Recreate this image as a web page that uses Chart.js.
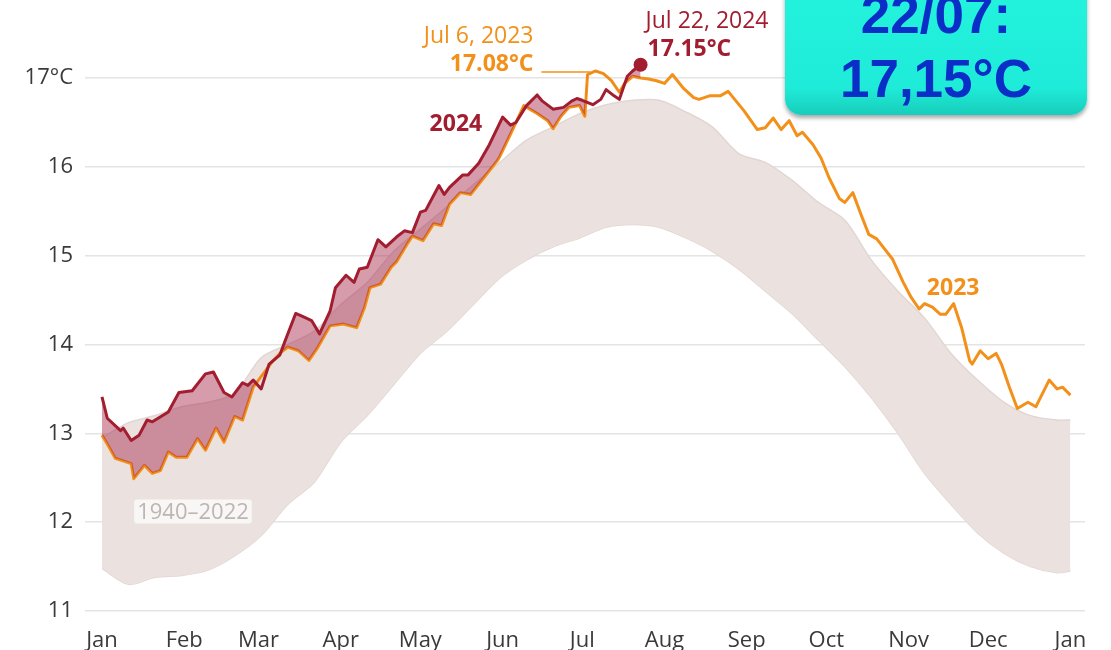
<!DOCTYPE html>
<html>
<head>
<meta charset="utf-8">
<script src="https://cdn.jsdelivr.net/npm/chart.js@4.4.1/dist/chart.umd.min.js"></script>
<style>
  html, body { margin: 0; padding: 0; background: #fff; }
  .wrap { position: relative; width: 1111px; height: 650px; overflow: hidden; }
  canvas { position: absolute; left: 0; top: 0; }
  .callout {
    position: absolute; left: 785px; top: -22px; width: 302px; height: 137px;
    border-radius: 16px;
    background: linear-gradient(#24f3de 0%, #1eecd8 80%, #18cdbb 100%);
    box-shadow: 0 3px 4px rgba(0,0,0,0.35);
    color: #0b2ec6; font-family: "Liberation Sans", Arial, sans-serif; font-weight: bold;
    font-size: 53px; line-height: 64px; text-align: center;
    padding-top: 5px; box-sizing: border-box;
  }
</style>
</head>
<body>
<div class="wrap">
  <canvas id="myChart"></canvas>
  <div class="callout">22/07:<br>17,15°C</div>
</div>
<script>
const orangeColor = '#f39019'
const redColor = '#a21d2f'
const bandColor = '#ebe2e0'

// month ticks (day of year)
const monthLabels = ['Jan', 'Feb', 'Mar', 'Apr', 'May', 'Jun', 'Jul', 'Aug', 'Sep', 'Oct', 'Nov', 'Dec', 'Jan']
const monthDays = [0, 31, 59, 90, 120, 151, 181, 212, 243, 273, 304, 334, 365]
const yTicks = [11, 12, 13, 14, 15, 16, 17]

// 2024 daily global air temperature
const days2024 = [0, 2, 7, 8, 11, 14, 17, 19, 25, 29, 34, 39, 42, 46, 49, 53, 55, 57, 60, 63, 67, 69, 73, 76, 79, 82, 86, 88, 92, 95, 97, 100,
  104, 107, 111, 114, 117, 120, 122, 127, 129, 131, 136, 138, 142, 146, 151, 154, 156, 160, 164, 166, 170, 174, 177, 179, 181, 185, 188,
  190, 193, 195, 198, 200, 203]
const temps2024 = [13.41, 13.17, 13.03, 13.06, 12.92, 12.98, 13.15, 13.13, 13.24, 13.46, 13.48, 13.67, 13.69, 13.46, 13.41, 13.57, 13.54,
  13.60, 13.50, 13.78, 13.88, 14.04, 14.35, 14.31, 14.27, 14.12, 14.38, 14.64, 14.78, 14.70, 14.85, 14.87,
  15.18, 15.10, 15.21, 15.28, 15.26, 15.49, 15.51, 15.79, 15.69, 15.77, 15.91, 15.91, 16.04, 16.25, 16.56, 16.47, 16.50, 16.69, 16.81,
  16.74, 16.65, 16.67, 16.74, 16.77, 16.75, 16.70, 16.76, 16.87, 16.80, 16.76, 17.02, 17.08, 17.15]

// 2023
const days2023 = [0, 2, 5, 11, 12, 16, 19, 22, 25, 28, 32, 36, 39, 43, 46, 50, 53, 57, 64, 67, 70, 74, 78, 81, 86, 91, 96, 99, 101, 105,
  109, 111, 115, 117, 121, 125, 128, 131, 135, 139, 144, 149, 150, 154, 159, 164, 168, 170, 173, 176, 180, 182, 183, 186, 189, 192, 195,
  197, 200, 203, 206, 209, 212, 215, 219, 223, 225, 229, 233, 236, 239, 242, 247, 250, 253, 256, 259, 262, 264, 268, 271, 274, 278,
  280, 283, 286, 289, 292, 298, 302, 305, 308, 310, 313, 316, 318, 321, 324, 327, 328, 331, 334, 337, 339, 342, 345, 349, 352, 357,
  360, 362, 365]
const temps2023 = [12.98, 12.88, 12.72, 12.66, 12.49, 12.64, 12.55, 12.58, 12.79, 12.73, 12.73, 12.94, 12.81, 13.06, 12.90, 13.19, 13.15,
  13.52, 13.80, 13.90, 13.97, 13.93, 13.82, 13.95, 14.21, 14.23, 14.19, 14.42, 14.64, 14.68,
  14.87, 14.93, 15.13, 15.22, 15.17, 15.36, 15.34, 15.58, 15.71, 15.69, 15.88, 16.07, 16.12, 16.37, 16.69, 16.60, 16.52, 16.43, 16.57,
  16.67, 16.69, 16.57, 17.04, 17.08, 17.05, 16.97, 16.84,
  16.94, 17.02, 17.00, 16.99, 16.97, 16.94, 17.04, 16.89, 16.78, 16.76, 16.80, 16.80, 16.85, 16.74, 16.63, 16.42, 16.44, 16.55, 16.42,
  16.52, 16.35, 16.39, 16.25, 16.10, 15.88, 15.64,
  15.60, 15.71, 15.47, 15.24, 15.19, 14.96, 14.70, 14.53, 14.40, 14.46, 14.42, 14.34, 14.34, 14.46, 14.19, 13.82, 13.78, 13.93, 13.84,
  13.90, 13.78, 13.52, 13.28, 13.35, 13.30, 13.60,
  13.50, 13.52, 13.43]

// 1940-2022 range (upper / lower edge of the grey bundle)
const bandDays = [0, 10, 20, 30, 40, 50, 60, 70, 80, 90, 100, 110, 120, 130, 140, 150, 160, 170, 180, 190, 200, 210, 220, 230, 240, 250,
  260, 270, 280, 290, 300, 310, 320, 330, 340, 350, 360, 365]
const bandMax = [12.95, 13.12, 13.2, 13.3, 13.35, 13.45, 13.85, 14.0, 14.15, 14.45, 14.7, 15.05, 15.3, 15.55, 15.8, 16.05, 16.3, 16.45,
  16.6, 16.7, 16.75, 16.75, 16.62, 16.45, 16.15, 16.05, 15.85, 15.6, 15.4, 14.95, 14.6, 14.3, 13.9, 13.6, 13.35, 13.2, 13.15, 13.15]
const bandMin = [11.48, 11.3, 11.38, 11.4, 11.46, 11.62, 11.85, 12.2, 12.45, 12.9, 13.2, 13.55, 13.9, 14.15, 14.45, 14.75, 14.95, 15.1,
  15.2, 15.32, 15.35, 15.32, 15.2, 15.05, 14.85, 14.6, 14.35, 14.05, 13.75, 13.4, 13.0, 12.55, 12.2, 11.88, 11.65, 11.5, 11.43, 11.45]

const peak2023 = { day: 186, temp: 17.08 }
const peak2024 = { day: 203, temp: 17.15 }

function toPoints(xs, ys) {
  return xs.map((x, i) => ({ x: x, y: ys[i] }))
}

const fontFamily = '"Open Sans", "DejaVu Sans", sans-serif'

// labels on top of the lines
const labelPlugin = {
  id: 'labels',
  afterDatasetsDraw(chart) {
    const c = chart.ctx
    const xs = chart.scales.x
    const ys = chart.scales.y
    c.save()
    c.textBaseline = 'alphabetic'

    // 2023 record
    const px = xs.getPixelForValue(peak2023.day)
    const py = ys.getPixelForValue(peak2023.temp)
    c.strokeStyle = orangeColor
    c.lineWidth = 1.5
    c.beginPath()
    c.moveTo(px - 54, py + 1)
    c.lineTo(px - 5, py + 1)
    c.stroke()
    c.fillStyle = orangeColor
    c.textAlign = 'right'
    c.font = '23px ' + fontFamily
    c.fillText('Jul 6, 2023', px - 62, py - 28)
    c.font = 'bold 23px ' + fontFamily
    c.fillText('17.08°C', px - 62, py)

    // 2024 record
    const rx = xs.getPixelForValue(peak2024.day)
    const ry = ys.getPixelForValue(peak2024.temp)
    c.fillStyle = redColor
    c.textAlign = 'left'
    c.font = '23px ' + fontFamily
    c.fillText('Jul 22, 2024', rx + 5, ry - 37)
    c.font = 'bold 23px ' + fontFamily
    c.fillText('17.15°C', rx + 7, ry - 9)

    // series names
    c.textAlign = 'center'
    c.textBaseline = 'middle'
    c.font = 'bold 23px ' + fontFamily
    c.fillStyle = redColor
    c.fillText('2024', xs.getPixelForValue(133.4), ys.getPixelForValue(16.48))
    c.fillStyle = orangeColor
    c.fillText('2023', xs.getPixelForValue(320.8), ys.getPixelForValue(14.63))

    // 1940-2022
    const gx = xs.getPixelForValue(34.3)
    const gy = ys.getPixelForValue(12.12)
    c.font = '22px ' + fontFamily
    const w = c.measureText('1940–2022').width
    c.fillStyle = 'rgba(255,255,255,0.7)'
    c.beginPath()
    c.roundRect(gx - w / 2 - 3, gy - 12, w + 6, 24, 3)
    c.fill()
    c.fillStyle = '#bdb5b3'
    c.fillText('1940–2022', gx, gy + 1)
    c.restore()
  }
}

var ctx = document.getElementById('myChart')
ctx.width = 1111
ctx.height = 650

var lineChart = new Chart(ctx, {
  type: 'line',
  data: {
    datasets: [{
      label: '2024',
      data: toPoints(days2024, temps2024),
      borderColor: redColor,
      borderWidth: 3,
      borderJoinStyle: 'round',
      tension: 0,
      pointRadius: (c) => c.dataIndex === days2024.length - 1 ? 7 : 0,
      pointBackgroundColor: redColor,
      pointBorderWidth: 0,
      fill: { target: 1, above: 'rgba(165,35,70,0.45)', below: 'rgba(0,0,0,0)' },
      order: 0,
    }, {
      label: '2023',
      data: toPoints(days2023, temps2023),
      borderColor: orangeColor,
      borderWidth: 3,
      borderJoinStyle: 'round',
      tension: 0,
      pointRadius: 0,
      fill: false,
      order: 1,
    }, {
      label: '1940-2022 max',
      data: toPoints(bandDays, bandMax),
      borderColor: '#e2d6d4',
      borderWidth: 1.5,
      backgroundColor: bandColor,
      tension: 0.3,
      pointRadius: 0,
      fill: '+1',
      order: 2,
    }, {
      label: '1940-2022 min',
      data: toPoints(bandDays, bandMin),
      borderColor: '#e2d6d4',
      borderWidth: 1.5,
      tension: 0.3,
      pointRadius: 0,
      fill: false,
      order: 3,
    }]
  },
  options: {
    responsive: false,
    animation: false,
    maintainAspectRatio: false,
    layout: { padding: { top: 6, right: 26, left: 0, bottom: 0 } },
    plugins: {
      legend: { display: false },
      tooltip: { enabled: false },
    },
    scales: {
      x: {
        type: 'linear',
        min: -6.4,
        max: 370.5,
        afterBuildTicks: (axis) => { axis.ticks = monthDays.map(v => ({ value: v })) },
        afterFit: (axis) => {
          axis.height = 39
          axis.paddingLeft = 0
          axis.paddingRight = 0
        },
        ticks: {
          autoSkip: false,
          maxRotation: 0,
          padding: 9,
          color: '#3a3a3a',
          font: { family: fontFamily, size: 22 },
          callback: (v) => monthLabels[monthDays.indexOf(v)],
        },
        grid: { display: false },
        border: { display: false },
      },
      y: {
        min: 11,
        max: 17.8,
        afterBuildTicks: (axis) => { axis.ticks = yTicks.map(v => ({ value: v })) },
        afterFit: (axis) => {
          axis.width = 85
          axis.paddingTop = 0
          axis.paddingBottom = 0
        },
        ticks: {
          padding: 12,
          color: '#3a3a3a',
          font: { family: fontFamily, size: 22 },
          callback: (v) => v === 17 ? '17°C' : v,
        },
        grid: { color: '#e4e4e4', lineWidth: 1.5, drawTicks: false },
        border: { display: false },
      }
    }
  },
  plugins: [labelPlugin]
})
</script>
</body>
</html>
